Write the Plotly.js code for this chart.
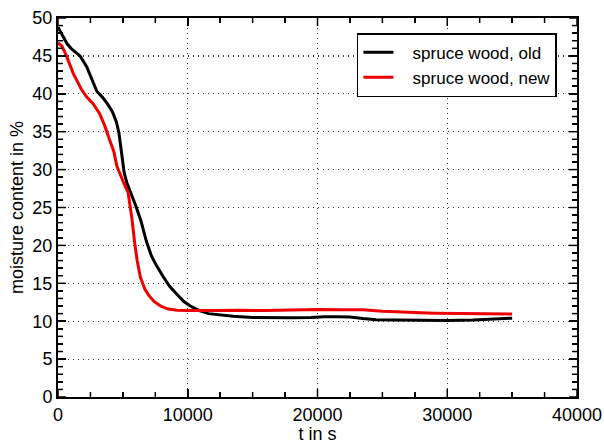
<!DOCTYPE html>
<html>
<head>
<meta charset="utf-8">
<script src="https://cdn.plot.ly/plotly-3.0.1.min.js"></script>
<style>html,body{margin:0;padding:0;background:#fff;}#chart{width:604px;height:444px;}</style>
</head>
<body>
<div id="chart"></div>
<script>
// spruce wood, old
const tOld = [0,150,400,700,1000,1300,1700,2200,2600,3000,3400,3800,4200,4500,4700,4900,5100,5300,5600,6000,6400,6800,7200,7600,8100,8600,9200,9700,10200,10900,11600,12500,13500,15000,16500,18000,19500,20500,21500,22500,23500,24500,26000,28000,30000,32000,33500,35000];
const mOld = [48.8,48.3,47.4,46.6,46.0,45.6,45.0,43.6,42.0,40.3,39.6,38.7,37.6,36.3,34.8,32.3,29.6,28.3,27.0,25.2,23.2,20.6,18.6,17.3,15.9,14.6,13.5,12.6,12.0,11.4,11.0,10.8,10.65,10.5,10.45,10.45,10.5,10.6,10.6,10.55,10.35,10.2,10.15,10.1,10.1,10.15,10.3,10.4];
// spruce wood, new
const tNew = [0,300,600,900,1200,1500,1800,2200,2700,3200,3600,4000,4300,4550,4800,5100,5400,5550,5700,5900,6100,6350,6700,7000,7400,7900,8500,9200,10000,12000,14000,16000,18000,20000,22000,23500,25000,27000,29000,31000,33000,35000];
const mNew = [46.7,46.3,45.2,43.8,42.6,41.6,40.6,39.6,38.7,37.4,35.8,33.8,32.4,30.4,29.3,28.1,27.0,25.5,23.5,20.5,18.0,15.8,14.2,13.4,12.6,12.0,11.6,11.45,11.4,11.4,11.45,11.4,11.5,11.55,11.5,11.5,11.3,11.15,11.05,11.0,10.95,10.95];
const seriesNames = ["spruce wood, old", "spruce wood, new"];
const xTitle = "t in s";
const yTitle = "moisture content in %";

// axis settings
const xRange = [0, 40000], xMajor = 10000, xMinor = 2500;
const yRange = [0, 50], yMajor = 5, yMinor = 1;

const font = "Liberation Sans, Arial, sans-serif";
const pad = "\u00a0\u00a0\u00a0";
const W = 604, H = 444, M = {l: 58, r: 27, t: 18, b: 47};
const plotW = W - M.l - M.r, plotH = H - M.t - M.b;
const majLen = 8, minLen = 5;

const shapes = [];
const tickLine = {color: "#000", width: 1.5};
for (let v = xRange[0]; v <= xRange[1] + 1e-9; v += xMinor) {
  const len = (Math.abs(v % xMajor) < 1e-9 ? majLen : minLen) / plotH;
  shapes.push({type: "line", xref: "x", yref: "paper", x0: v, x1: v, y0: 0, y1: len, line: {color: tickLine.color, width: tickLine.width}, layer: "above"});
  shapes.push({type: "line", xref: "x", yref: "paper", x0: v, x1: v, y0: 1, y1: 1 - len, line: {color: tickLine.color, width: tickLine.width}, layer: "above"});
}
for (let v = yRange[0]; v <= yRange[1] + 1e-9; v += yMinor) {
  const len = (Math.abs(v % yMajor) < 1e-9 ? majLen : minLen) / plotW;
  shapes.push({type: "line", xref: "paper", yref: "y", x0: 0, x1: len, y0: v, y1: v, line: {color: tickLine.color, width: tickLine.width}, layer: "above"});
  shapes.push({type: "line", xref: "paper", yref: "y", x0: 1, x1: 1 - len, y0: v, y1: v, line: {color: tickLine.color, width: tickLine.width}, layer: "above"});
}

const axisCommon = {
  showline: true, linecolor: "#000", linewidth: 2, mirror: "allticks",
  ticks: "inside", ticklen: majLen, tickwidth: 1.5, tickcolor: "#000",
  showgrid: true, gridcolor: "#333", griddash: "1px,4px", gridwidth: 1.2,
  zeroline: false, tickfont: {family: font, size: 18, color: "#000"},
  tickformat: "d"
};
const data = [
  {x: tOld, y: mOld, name: pad + seriesNames[0], mode: "lines", line: {color: "#000000", width: 3}},
  {x: tNew, y: mNew, name: pad + seriesNames[1], mode: "lines", line: {color: "#ee0000", width: 3}}
];
const layout = {
  width: W, height: H,
  margin: {l: M.l, r: M.r, t: M.t, b: M.b, pad: 0},
  paper_bgcolor: "#fff", plot_bgcolor: "#fff",
  font: {family: font, color: "#000"},
  xaxis: Object.assign({}, axisCommon, {
    range: xRange, dtick: xMajor, tick0: 0,
    minor: {dtick: xMinor, ticks: "inside", ticklen: minLen, tickwidth: 1.5, tickcolor: "#000", showgrid: false},
    title: {text: xTitle, font: {family: font, size: 18}, standoff: 4}
  }),
  yaxis: Object.assign({}, axisCommon, {
    range: yRange, dtick: yMajor, tick0: 0,
    minor: {dtick: yMinor, ticks: "inside", ticklen: minLen, tickwidth: 1.5, tickcolor: "#000", showgrid: false},
    title: {text: yTitle, font: {family: font, size: 18}, standoff: 4}
  }),
  shapes: shapes,
  showlegend: true,
  legend: {
    x: 0.576, y: 0.96, xanchor: "left", yanchor: "top",
    bgcolor: "#fff", bordercolor: "#000", borderwidth: 1.5,
    font: {family: font, size: 17, color: "#000"},
    itemwidth: 30
  }
};
Plotly.newPlot("chart", data, layout, {displayModeBar: false, staticPlot: true});
</script>
</body>
</html>
